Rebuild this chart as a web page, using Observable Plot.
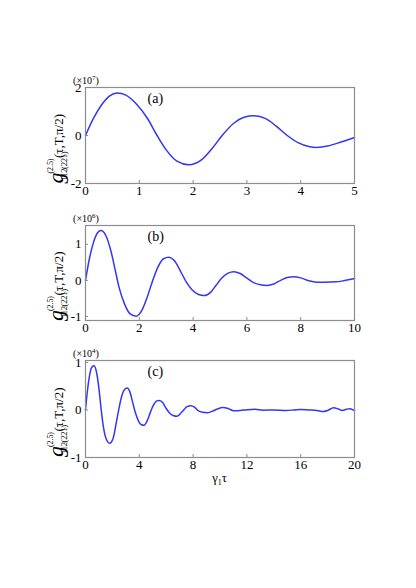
<!DOCTYPE html>
<html>
<head>
<meta charset="utf-8">
<script src="https://cdn.jsdelivr.net/npm/d3@7"></script>
<script src="https://cdn.jsdelivr.net/npm/@observablehq/plot@0.6"></script>
<style>
  html, body { margin: 0; padding: 0; background: #fff; }
  #wrap { position: relative; width: 416px; height: 588px; background: #fff; overflow: hidden; }
  #wrap svg { position: absolute; left: 0; overflow: visible; }
</style>
</head>
<body>
<div id="wrap"></div>
<script>
// ---- Data ----
const tauA = [0,0.15,0.3,0.45,0.59,0.75,0.95,1.15,1.33,1.5,1.7,1.92,2.15,2.35,2.54,2.75,2.95,3.13,3.35,3.55,3.75,3.95,4.15,4.3,4.5,4.75,5.0];
const gA   = [0,0.72,1.28,1.65,1.77,1.68,1.3,0.72,0.0,-0.6,-1.07,-1.22,-1.03,-0.55,0.0,0.5,0.76,0.82,0.7,0.38,0.0,-0.3,-0.46,-0.5,-0.44,-0.27,-0.08];

const tauB = [0,0.15,0.3,0.45,0.57,0.75,0.95,1.1,1.25,1.45,1.65,1.88,2.1,2.3,2.5,2.7,2.9,3.1,3.3,3.5,3.75,3.95,4.2,4.42,4.65,4.85,5.05,5.3,5.51,5.75,6.0,6.25,6.5,6.75,7.0,7.25,7.5,7.75,8.0,8.3,8.6,8.9,9.3,9.6,10.0];
const gB   = [0,0.62,1.06,1.32,1.38,1.25,0.8,0.3,-0.2,-0.65,-0.92,-0.99,-0.82,-0.45,0.0,0.38,0.6,0.64,0.55,0.3,-0.05,-0.25,-0.39,-0.42,-0.33,-0.14,0.05,0.2,0.24,0.19,0.06,-0.06,-0.12,-0.14,-0.1,0.0,0.08,0.1,0.07,-0.01,-0.05,-0.05,-0.04,-0.01,0.05];

const tauC = [0,0.15,0.3,0.45,0.62,0.8,1.0,1.15,1.3,1.5,1.8,2.05,2.3,2.5,2.7,2.9,3.1,3.3,3.5,3.7,3.95,4.15,4.35,4.6,4.85,5.05,5.3,5.5,5.75,6.0,6.3,6.55,6.8,7.05,7.3,7.55,7.85,8.1,8.4,8.7,9.05,9.4,9.8,10.2,10.6,11.0,11.5,12.0,12.6,13.2,14.0,14.9,15.5,16.0,16.6,17.2,17.7,18.0,18.45,18.8,19.1,19.4,19.65,20.0];
const gC   = [0,0.42,0.72,0.89,0.93,0.82,0.45,0.05,-0.3,-0.58,-0.7,-0.6,-0.25,0.05,0.3,0.43,0.46,0.38,0.17,-0.05,-0.24,-0.31,-0.32,-0.22,-0.03,0.1,0.19,0.2,0.15,0.03,-0.08,-0.12,-0.13,-0.08,0.0,0.07,0.09,0.06,-0.02,-0.05,-0.06,-0.03,0.02,0.05,0.03,-0.015,-0.01,0.005,0.015,-0.005,0.0,-0.01,0.0,0.01,0.0,-0.01,-0.035,-0.01,0.045,0.02,-0.01,0.015,0.027,-0.015];

const panelLetters = ["(a)", "(b)", "(c)"];
const multipliers  = ["7", "6", "4"];   // exponents of the ×10^n factor
const xDomains = [[0, 5], [0, 10], [0, 20]];
const xTicks   = [[0,1,2,3,4,5], [0,2,4,6,8,10], [0,4,8,12,16,20]];
const yDomains = [[-2, 2], [-1.11, 1.52], [-1, 1.04]];
const yTicks   = [[-2,0,2], [-1,0,1], [-1,0,1]];

// ---- Layout ----
const frameTops = [87, 224.5, 360];
const frameHeights = [96, 95, 97];
const mTop = 22, mBottom = 36, mLeft = 85, mRight = 62;
const serif = "Liberation Serif, Times New Roman, Times, DejaVu Serif, serif";
const lineColor = "#3535f5";
const frameColor = "#8c8c8c";

const series = [
  tauA.map((t, i) => ({t, g: gA[i]})),
  tauB.map((t, i) => ({t, g: gB[i]})),
  tauC.map((t, i) => ({t, g: gC[i]}))
];

const wrap = document.getElementById("wrap");

// text piece with a fixed advance width (Times-like metrics), so layout does not depend on measuring
function piece(parent, str, size, x, y, len, italic) {
  const t = parent.append("text")
    .attr("font-family", serif)
    .attr("font-size", size)
    .attr("fill", "black")
    .attr("x", x).attr("y", y)
    .attr("textLength", len)
    .attr("lengthAdjust", "spacing")
    .text(str);
  if (italic) t.attr("font-style", "italic");
  return t;
}

series.forEach((data, k) => {
  const H = frameHeights[k] + mTop + mBottom;
  const chart = Plot.plot({
    width: 416,
    height: H,
    marginLeft: mLeft,
    marginRight: mRight,
    marginTop: mTop,
    marginBottom: mBottom,
    style: {fontFamily: serif, fontSize: "12px", background: "transparent", color: "black"},
    x: {domain: xDomains[k]},
    y: {domain: yDomains[k]},
    marks: [
      Plot.line(data, {x: "t", y: "g", stroke: lineColor, strokeWidth: 1.5, curve: "monotone-x"}),
      Plot.frame({stroke: frameColor, strokeWidth: 1.2}),
      Plot.axisX({ticks: xTicks[k], tickSize: -3, tickPadding: 5, stroke: frameColor,
                  tickFormat: d => String(d), label: null, fontSize: 13, fontFamily: serif}),
      Plot.axisY({ticks: yTicks[k], tickSize: -3, tickPadding: 7, stroke: frameColor,
                  tickFormat: d => String(d), label: null, fontSize: 13, fontFamily: serif}),
      Plot.text([panelLetters[k]], {frameAnchor: "top-left", dx: 62, dy: 6, text: d => d,
                  fontSize: 14, fontFamily: serif, textAnchor: "start", lineAnchor: "top"})
    ]
  });
  chart.setAttribute("font-family", serif);
  chart.style.top = (frameTops[k] - mTop) + "px";
  wrap.appendChild(chart);

  const svg = d3.select(chart);

  // multiplier (×10^n) above the top-left corner of the frame
  const mult = svg.append("text")
    .attr("x", mLeft + 1).attr("y", mTop - 3)
    .attr("font-family", serif).attr("font-size", 10).attr("fill", "black");
  mult.append("tspan").text("(×10");
  mult.append("tspan").attr("font-size", 7).attr("dy", -4).text(multipliers[k]);
  mult.append("tspan").attr("dy", 4).text(")");

  // rotated y-axis label  g^{(2.5)}_{112(221)}(τ,T,π/2)
  const cy = mTop + frameHeights[k] / 2;
  const gW = 11.5, subW = 29, mainW = 44;
  const total = gW + 0.5 + subW + 1 + mainW;
  const grp = svg.append("g")
    .attr("transform", `translate(63,${cy + total / 2}) rotate(-90)`);
  piece(grp, "g", 22, 0, 0, gW, true);
  piece(grp, "112(221)", 8.5, gW + 0.5, 4, subW);
  piece(grp, "(2.5)", 8, gW + 0.5, -10, 15);
  piece(grp, "(τ,T,π/2)", 13, gW + 0.5 + subW + 1, 0, mainW);

  // x-axis label on the bottom panel: γ₁τ
  if (k === 2) {
    const xl = svg.append("text")
      .attr("x", mLeft + (416 - mLeft - mRight) / 2)
      .attr("y", mTop + frameHeights[k] + 25)
      .attr("text-anchor", "middle")
      .attr("font-family", serif).attr("font-size", 12.5).attr("fill", "black");
    xl.append("tspan").text("γ");
    xl.append("tspan").attr("font-size", 8).attr("dy", 3).text("1");
    xl.append("tspan").attr("dy", -3).text("τ");
  }
});
</script>
</body>
</html>
